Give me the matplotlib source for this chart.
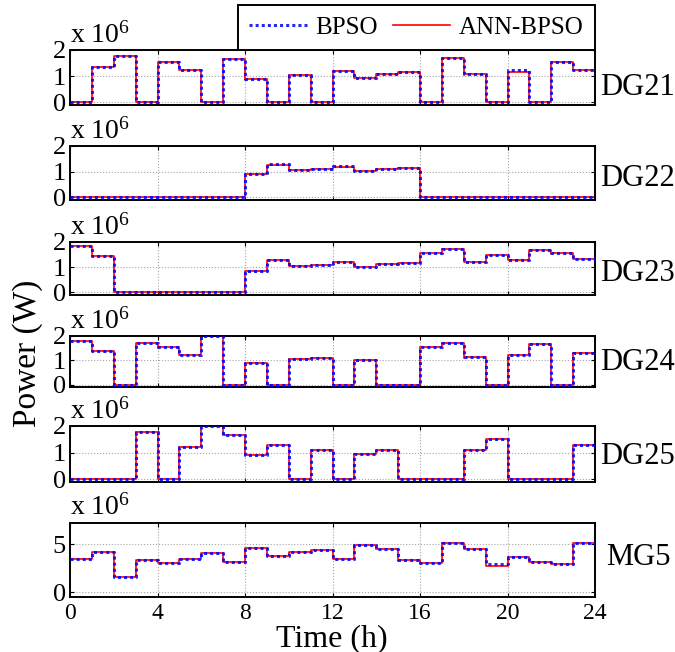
import numpy as np
import matplotlib

matplotlib.use("Agg")
import matplotlib.pyplot as plt  # noqa: E402

plt.rcParams["font.family"] = ["Liberation Serif", "DejaVu Serif"]
plt.rcParams["mathtext.fontset"] = "custom"
plt.rcParams["mathtext.rm"] = "Liberation Serif"

# hourly dispatch, units of 1e6 W
hours = np.arange(25)
names = ["DG21", "DG22", "DG23", "DG24", "DG25", "MG5"]

dg21_bpso = [0, 1.37, 1.79, 0, 1.54, 1.22, 0, 1.65, 0.90, 0, 1.04, 0,
             1.19, 0.94, 1.08, 1.15, 0, 1.70, 1.10, 0, 1.22, 0, 1.54, 1.25]
dg21_ann = [0, 1.37, 1.79, 0, 1.54, 1.22, 0, 1.65, 0.90, 0, 1.04, 0,
            1.19, 0.94, 1.08, 1.15, 0, 1.70, 1.10, 0, 1.15, 0, 1.54, 1.25]
dg22_bpso = [0, 0, 0, 0, 0, 0, 0, 0, 0.90, 1.30, 1.05, 1.10,
             1.22, 1.02, 1.10, 1.15, 0, 0, 0, 0, 0, 0, 0, 0]
dg22_ann = [0, 0, 0, 0, 0, 0, 0, 0, 0.90, 1.28, 1.05, 1.10,
            1.18, 1.02, 1.10, 1.15, 0, 0, 0, 0, 0, 0, 0, 0]
dg23_bpso = [1.83, 1.43, 0, 0, 0, 0, 0, 0, 0.87, 1.30, 1.03, 1.10,
             1.20, 1.00, 1.12, 1.16, 1.55, 1.72, 1.20, 1.50, 1.30, 1.67, 1.55, 1.32]
dg23_ann = dg23_bpso
dg24_bpso = [1.78, 1.38, 0, 1.73, 1.55, 1.22, 2.00, 0, 0.88, 0, 1.04, 1.10,
             0, 1.00, 0, 0, 1.55, 1.72, 1.15, 0, 1.20, 1.68, 0, 1.32]
dg24_ann = dg24_bpso
dg25_bpso = [0, 0, 0, 1.76, 0, 1.22, 2.00, 1.65, 0.90, 1.28, 0, 1.10,
             0, 0.96, 1.10, 0, 0, 0, 1.10, 1.50, 0, 0, 0, 1.27]
dg25_ann = dg25_bpso
mg5_bpso = [3.42, 4.20, 1.58, 3.36, 3.00, 3.46, 4.04, 3.18, 4.55, 3.80, 4.14, 4.38,
            3.42, 4.90, 4.45, 3.36, 3.00, 5.17, 4.45, 2.90, 3.70, 3.18, 2.90, 5.10]
mg5_ann = [3.42, 4.20, 1.58, 3.36, 3.00, 3.46, 4.04, 3.18, 4.55, 3.80, 4.14, 4.38,
           3.42, 4.90, 4.45, 3.36, 3.00, 5.17, 4.45, 2.74, 3.70, 3.18, 2.90, 5.10]

bpso = [dg21_bpso, dg22_bpso, dg23_bpso, dg24_bpso, dg25_bpso, mg5_bpso]
ann = [dg21_ann, dg22_ann, dg23_ann, dg24_ann, dg25_ann, mg5_ann]

W, H = 675, 652
fig = plt.figure(figsize=(W / 100, H / 100), dpi=100)

# axes boxes as (top, bottom) in pixels
rows = [(50, 105), (146, 200), (242, 295), (336, 387), (426, 482), (523, 597)]
label_y = [0.31, 0.39, 0.40, 0.49, 0.45, 0.54]
x0, x1 = 70, 595

for i, (top, bot) in enumerate(rows):
    ax = fig.add_axes([x0 / W, 1 - bot / H, (x1 - x0) / W, (bot - top) / H])
    yb = np.append(bpso[i], bpso[i][-1])
    ya = np.append(ann[i], ann[i][-1])
    # red underneath, blue dots on top (as in the original)
    l2, = ax.step(hours, ya, where="post", color="red", lw=1.2, zorder=2)
    l1, = ax.step(hours, yb, where="post", color="blue", ls=(0, (1, 1)),
                  lw=2.2, alpha=0.85, zorder=3)
    ax.set_xlim(0, 24)
    ax.set_xticks(range(0, 25, 4))
    if names[i] == "MG5":
        ax.set_ylim(-0.5, 7.2)
        ax.set_yticks([0, 5])
        ax.set_xticklabels([str(t) for t in range(0, 25, 4)])
    else:
        ax.set_ylim(-0.1, 2.0)
        ax.set_yticks([0, 1, 2])
        ax.set_xticklabels([])
    ax.grid(True, color="0.65", ls=":", lw=0.8)
    ax.tick_params(direction="in", top=True, right=True, length=3,
                   labelsize=19, pad=3, width=0.8)
    ax.tick_params(axis="x", labelsize=17, pad=4)
    for s in ax.spines.values():
        s.set_linewidth(1.4)
    ax.text(0.0, 1.03, r"x $\mathregular{10^{6}}$", transform=ax.transAxes,
            ha="left", va="bottom", fontsize=20)
    dx = 1.022 if names[i] == "MG5" else 1.01
    ax.text(dx, label_y[i], names[i], transform=ax.transAxes,
            ha="left", va="center", fontsize=22)

leg = fig.legend([l1, l2], ["BPSO", "ANN-BPSO"], loc="upper right",
                 bbox_to_anchor=(x1 / W, 1 - 5 / H), ncol=2, fontsize=18,
                 frameon=True, fancybox=False, edgecolor="black", framealpha=1,
                 borderaxespad=0, handlelength=2.3, handletextpad=0.35,
                 columnspacing=0.6, borderpad=0.45)
leg.get_frame().set_linewidth(1.4)

fig.text(28 / W, 1 - 353 / H, "Power (W)", rotation=90, ha="center",
         va="center", fontsize=24)
fig.text(332 / W, 6 / H, "Time (h)", ha="center", va="baseline", fontsize=23)

fig.savefig("out.png", dpi=100)
